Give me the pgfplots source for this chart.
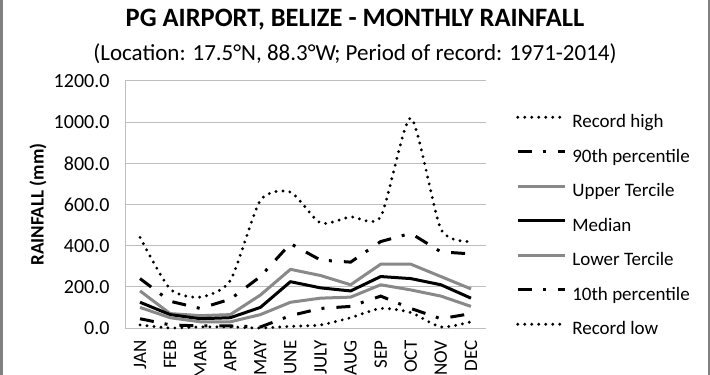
\documentclass[border=0pt]{standalone}
\usepackage{fontspec}
\setmainfont{Carlito}
\usepackage{pgfplots}
\pgfplotsset{compat=1.18}
\definecolor{tercgray}{RGB}{137,137,137}
\definecolor{gridgray}{RGB}{190,190,190}
\definecolor{framegray}{RGB}{128,128,128}
\begin{document}
\begin{tikzpicture}
\begin{axis}[
  at={(125bp,47bp)}, anchor=south west,
  scale only axis, width=361bp, height=247bp,
  xmin=-0.5, xmax=11.5, ymin=0, ymax=1200,
  xtick={0,...,11},
  xticklabels={JAN,FEB,MAR,APR,MAY,JUNE,JULY,AUG,SEP,OCT,NOV,DEC},
  ytick={0,200,...,1200},
  axis x line*=bottom, axis y line*=left,
  axis line style={draw=gridgray, line width=1bp, -},
  ymajorgrids, grid style={draw=gridgray, line width=1bp},
  major tick length=0pt,
  tick label style={font=\fontsize{19bp}{22bp}\selectfont},
  yticklabel style={font=\fontsize{20bp}{23bp}\selectfont},
  xticklabel style={rotate=90, anchor=east},
  xticklabel shift=9bp, yticklabel shift=12bp,
  yticklabel style={/pgf/number format/fixed, /pgf/number format/fixed zerofill,
    /pgf/number format/precision=1, /pgf/number format/1000 sep={},
    /pgf/number format/assume math mode=true},
  ylabel={RAINFALL (mm)},
  every axis y label/.style={at={(axis description cs:-0.241,0.5)}, rotate=90, anchor=center,
    font=\bfseries\fontsize{19bp}{22bp}\selectfont},
  legend style={at={(axis description cs:1.083,0.868)}, anchor=north west, draw=none, fill=none,
    inner sep=0pt, font=\fontsize{19bp}{22bp}\selectfont, row sep=15.5bp,
    nodes={inner sep=0pt, text height=14bp, text depth=5bp}},
  legend cell align=left,
  legend image code/.code={\draw[#1] (0bp,6bp) -- (47bp,6bp); \path (53bp,6bp);},
  clip=false,
]
\addplot[black, line width=3.2bp, line cap=round, dash pattern=on 0bp off 7bp, smooth, tension=0.4] coordinates {
(0,440) (1,190) (2,150) (3,230) (4,620) (5,660) (6,510) (7,540) (8,540) (9,1020) (10,480) (11,420)};
\addlegendentry{Record high}
\addplot[black, line width=3bp, dash pattern=on 14bp off 11bp on 3bp off 12bp] coordinates {
(0,240) (1,130) (2,95) (3,140) (4,250) (5,410) (6,330) (7,320) (8,420) (9,460) (10,370) (11,360)};
\addlegendentry{90th percentile}
\addplot[tercgray, line width=3bp, line join=round] coordinates {
(0,180) (1,70) (2,60) (3,65) (4,160) (5,285) (6,255) (7,210) (8,310) (9,310) (10,250) (11,190)};
\addlegendentry{Upper Tercile}
\addplot[black, line width=3bp, line join=round] coordinates {
(0,125) (1,65) (2,45) (3,50) (4,100) (5,225) (6,195) (7,180) (8,250) (9,240) (10,210) (11,145)};
\addlegendentry{Median}
\addplot[tercgray, line width=3bp, line join=round] coordinates {
(0,100) (1,50) (2,30) (3,30) (4,65) (5,125) (6,145) (7,150) (8,210) (9,185) (10,155) (11,105)};
\addlegendentry{Lower Tercile}
\addplot[black, line width=3bp, dash pattern=on 14bp off 11bp on 3bp off 12bp] coordinates {
(0,45) (1,15) (2,10) (3,10) (4,5) (5,60) (6,95) (7,105) (8,155) (9,95) (10,45) (11,70)};
\addlegendentry{10th percentile}
\addplot[black, line width=3.2bp, line cap=round, dash pattern=on 0bp off 7bp, smooth, tension=0.4] coordinates {
(0,15) (1,0) (2,5) (3,5) (4,0) (5,8) (6,15) (7,50) (8,95) (9,75) (10,5) (11,30)};
\addlegendentry{Record low}
\end{axis}
\node[font=\bfseries\fontsize{26.5bp}{30bp}\selectfont] at (355bp,355bp) {PG AIRPORT, BELIZE - MONTHLY RAINFALL};
\node[font=\fontsize{23bp}{26bp}\selectfont] at (355bp,321bp) {(Location: 17.5°N, 88.3°W; Period of record: 1971-2014)};
\draw[framegray, line width=2.5bp] (1.25bp,0) -- (1.25bp,375bp);
\draw[framegray, line width=2bp] (709bp,0) -- (709bp,375bp);
\pgfresetboundingbox
\useasboundingbox (0,0) rectangle (710bp,375bp);
\end{tikzpicture}
\end{document}
